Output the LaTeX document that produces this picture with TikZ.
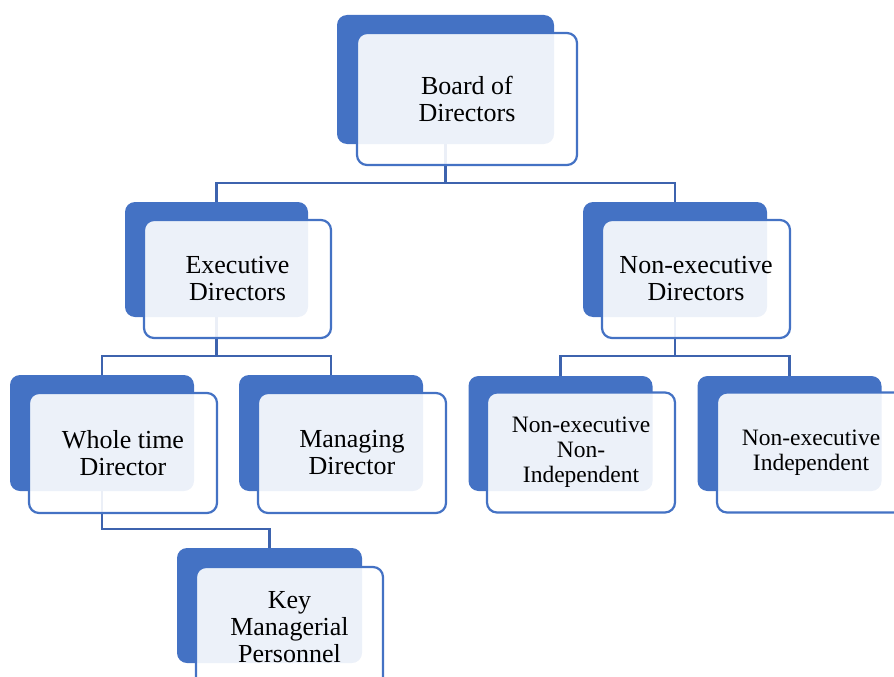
\documentclass[tikz,border=0pt]{standalone}
\usepackage{fontspec}
\setmainfont{Liberation Serif}
\definecolor{accent}{HTML}{4472C4}
\definecolor{connc}{HTML}{3D63AE}
\begin{document}
\begin{tikzpicture}[x=1pt,y=-1pt,
  back/.style={fill=accent,draw=none,rounded corners=10pt,inner sep=0pt,minimum width=184pt,minimum height=116pt},
  front/.style={draw=accent,line width=2.2pt,fill=white,fill opacity=0.9,text opacity=1,rounded corners=10pt,inner sep=0pt,minimum width=188pt,minimum height=120pt,align=center,font=\fontsize{26}{27}\selectfont},
  small/.style={font=\fontsize{23.5}{25}\selectfont},
  conn/.style={draw=connc,line width=2.3pt}]
\useasboundingbox (0,0) rectangle (894,677);
% connector junctions
\coordinate (j1) at (445.5,183);
\coordinate (j2) at (216.5,356);
\coordinate (j3) at (675,356);
\coordinate (j4) at (102,529);
% back boxes
\node[back,minimum width=217pt,minimum height=129pt] (bdb) at (445.5,79.5) {};
\node[back,minimum width=183pt,minimum height=115pt] (edb) at (216.5,259.5) {};
\node[back,minimum height=115pt] (ndb) at (675,259.5) {};
\node[back] (wtb) at (102,433) {};
\node[back] (mdb) at (331,433) {};
\node[back,minimum height=115pt] (nnb) at (560.5,433.5) {};
\node[back,minimum height=115pt] (nib) at (789.5,433.5) {};
\node[back,minimum height=115pt,minimum width=185pt] (kmb) at (269.5,605.5) {};
% connectors
\draw[conn] (bdb.south) -- (j1);
\draw[conn] (edb.north) |- (j1) -| (ndb.north);
\draw[conn] (edb.south) -- (j2);
\draw[conn] (wtb.north) |- (j2) -| (mdb.north);
\draw[conn] (ndb.south) -- (j3);
\draw[conn] (nnb.north) |- (j3) -| (nib.north);
\draw[conn] (wtb.south) -- (j4) -| (kmb.north);
% front boxes
\node[front,minimum width=220pt,minimum height=132pt] (bd) at (467,99) {Board of\\Directors};
\node[front,minimum width=187pt,minimum height=118pt] (ed) at (237.5,279) {Executive\\Directors};
\node[front,minimum height=118pt] (nd) at (696,279) {Non-executive\\Directors};
\node[front] (wt) at (123,453) {Whole time\\Director};
\node[front] (md) at (352,453) {Managing\\Director};
\node[front,small] (nn) at (581,452.5) {Non-executive\\Non-\\Independent};
\node[front,small] (ni) at (811,452.5) {Non-executive\\Independent};
\node[front,minimum width=187pt] (km) at (289.5,627) {Key\\Managerial\\Personnel};
\end{tikzpicture}
\end{document}
